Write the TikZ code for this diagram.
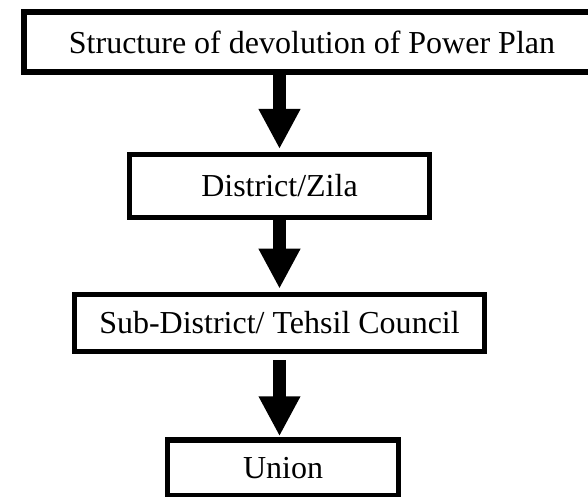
\documentclass[tikz,border=0pt]{standalone}
\usepackage{fontspec}
\setmainfont{Liberation Serif}
\usetikzlibrary{arrows.meta}
\begin{document}
\begin{tikzpicture}[x=1bp,y=-1bp,
  box/.style={draw=black, line width=5.5bp, fill=white, inner sep=0pt,
    font=\fontsize{32bp}{36bp}\selectfont},
  flow/.style={line width=13bp, -{Triangle[width=39bp,length=40bp]}, shorten >=3bp}]
\useasboundingbox (0,0) rectangle (588,497);
\clip (0,0) rectangle (588,497);
\node[box, minimum width=576bp, minimum height=60bp] (top) at (312,42) {Structure of devolution of Power Plan};
\node[box, minimum width=300bp, minimum height=62.5bp] (dist) at (279.5,186) {District/Zila};
\node[box, minimum width=410bp, minimum height=57bp] (sub) at (279.5,323) {Sub-District/ Tehsil Council};
\node[box, minimum width=231bp, minimum height=56bp] (union) at (283,468) {Union};
\draw[flow] (top.south -| dist.north) -- (dist.north);
\draw[flow] (dist.south) -- (sub.north);
\draw[flow, shorten <=6bp, shorten >=1bp] (sub.south -| dist.north) -- (union.north -| dist.north);
\end{tikzpicture}
\end{document}
